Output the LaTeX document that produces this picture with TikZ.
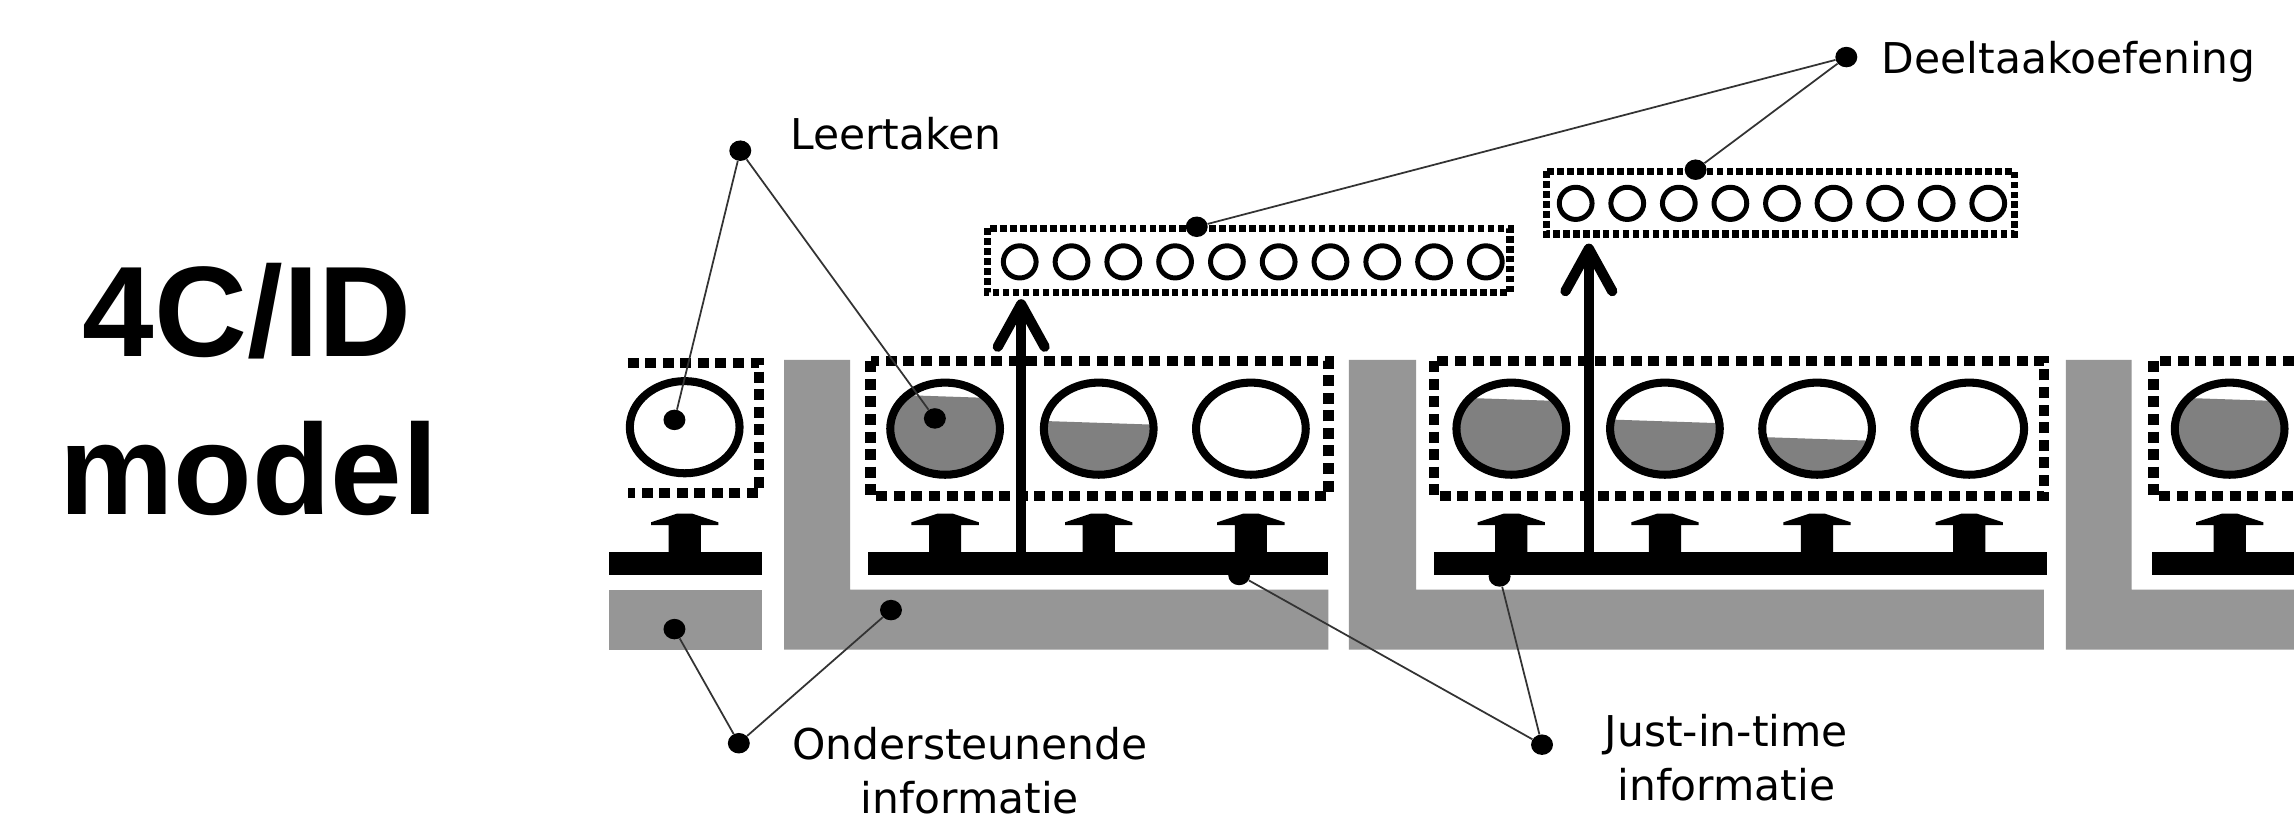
\documentclass[tikz,border=0pt]{standalone}
\usepackage{fontspec}
\usetikzlibrary{shapes.geometric}
\newfontfamily\titlefont{Liberation Sans}
\newfontfamily\lblfont{DejaVu Sans}
\definecolor{barg}{HTML}{969696}
\definecolor{cfill}{HTML}{808080}
\definecolor{leader}{HTML}{333333}
\newcommand\pcirc[4]{%
  \begin{scope}
    \clip (#2,#3) ellipse [x radius=37.5pt, y radius=31.5pt];
    \fill[cfill] (#2-45,#4-1.5) -- (#2+45,#4+1.5) -- (#2+45,#3+40) -- (#2-45,#3+40) -- cycle;
  \end{scope}
  \node[draw, ellipse, line width=5.5pt, minimum width=75pt, minimum height=63pt, inner sep=0pt] (#1) at (#2,#3) {};
}
\newcommand\uparr[1]{%
  \fill (#1-5,351) -- (#1+5,351) -- (#1+23,357) -- (#1+23,359) -- (#1+11,359) -- (#1+11,378)
        -- (#1-11,378) -- (#1-11,359) -- (#1-23,359) -- (#1-23,357) -- cycle;
}
\tikzset{
  bigdash/.style={line width=7pt, dash pattern=on 7.5pt off 4.5pt},
  smalldash/.style={line width=5pt, dash pattern=on 4.5pt off 2.3pt},
  dot/.style={fill=black, ellipse, minimum width=15pt, minimum height=14pt, inner sep=0pt},
  lead/.style={draw=leader, line width=1.2pt},
  lbl/.style={font=\lblfont\fontsize{29}{37}\selectfont, inner sep=0pt},
  ttl/.style={font=\titlefont\bfseries\fontsize{88}{100}\selectfont, inner sep=0pt},
  pov/.style={line width=3.4pt},
}
\begin{document}
\begin{tikzpicture}[x=1pt, y=-1pt]
\useasboundingbox (0,0) rectangle (1568,562);
\clip (0,0) rectangle (1568,562);
\fill[white] (0,0) rectangle (1568,562);

% title
\node[ttl, anchor=base] (t1) at (169,244) {4C/ID};
\node[ttl, anchor=base] (t2) at (170,352) {model};

% gray support bars
\fill[barg] (416,403) rectangle (521,444);
\fill[barg] (536,246) -- (581,246) -- (581,403) -- (908,403) -- (908,444) -- (536,444) -- cycle;
\fill[barg] (922,246) -- (968,246) -- (968,403) -- (1397,403) -- (1397,444) -- (922,444) -- cycle;
\fill[barg] (1412,246) -- (1457,246) -- (1457,403) -- (1600,403) -- (1600,444) -- (1412,444) -- cycle;

% black bars
\fill (416,377) rectangle (521,393);
\fill (593,377) rectangle (908,393);
\fill (980,377) rectangle (1399,393);
\fill (1471,377) rectangle (1600,393);

% block arrows
\uparr{468}
\uparr{646}\uparr{751}\uparr{855}
\uparr{1033}\uparr{1138}\uparr{1242}\uparr{1346}
\uparr{1524}

% learning task circles
\pcirc{c0}{468}{292}{400}
\pcirc{c11}{646}{293}{271}
\pcirc{c12}{751}{293}{289}
\pcirc{c13}{855}{293}{400}
\pcirc{c21}{1033}{293}{273}
\pcirc{c22}{1138}{293}{288}
\pcirc{c23}{1242}{293}{300}
\pcirc{c24}{1346}{293}{400}
\pcirc{c31}{1524}{293}{273}

% dashed task class boxes
\draw[bigdash] (429,248) -- (519,248) -- (519,337) -- (429,337);
\draw[bigdash] (595,247) rectangle (908,339);
\draw[bigdash] (980,247) rectangle (1397,339);
\draw[bigdash] (1472,247) rectangle (1620,339);

% big arrows to part-task practice
\draw[line width=7pt] (698,378) -- (698,209);
\draw[line width=7pt, line cap=round, line join=round] (682,237) -- (698,208) -- (714,237);
\draw[line width=7pt] (1086,378) -- (1086,171);
\draw[line width=7pt, line cap=round, line join=round] (1070,199) -- (1086,170) -- (1102,199);

% part-task practice boxes
\draw[smalldash] (675,156) rectangle (1032,200);
\foreach \i in {0,...,9} { \draw[pov] (697+35.4*\i,179) ellipse [x radius=11.2pt, y radius=11pt]; }
\draw[smalldash] (1057,117) rectangle (1377,160);
\foreach \i in {0,...,8} { \draw[pov] (1077+35.25*\i,139) ellipse [x radius=11.2pt, y radius=11pt]; }

% dots
\node[dot] (dLeer) at (506,103) {};
\node[dot] (dc0) at (461,287) {};
\node[dot] (dc11) at (639,286) {};
\node[dot] (dDeel) at (1262,39) {};
\node[dot] (dp1) at (818,155) {};
\node[dot] (dp2) at (1159,116) {};
\node[dot] (dOnd) at (505,508) {};
\node[dot] (dg0) at (461,430) {};
\node[dot] (dg1) at (609,417) {};
\node[dot] (dJit) at (1054,509) {};
\node[dot] (db1) at (847,393) {};
\node[dot] (db2) at (1025,394) {};

% leader lines
\draw[lead] (dLeer) -- (dc0);
\draw[lead] (dLeer) -- (dc11);
\draw[lead] (dDeel) -- (dp1);
\draw[lead] (dDeel) -- (dp2);
\draw[lead] (dOnd) -- (dg0);
\draw[lead] (dOnd) -- (dg1);
\draw[lead] (dJit) -- (db1);
\draw[lead] (dJit) -- (db2);

% labels
\node[lbl, anchor=base west] (lLeer) at (540,102) {Leertaken};
\node[lbl, anchor=base west] (lDeel) at (1286,50) {Deeltaakoefening};
\node[lbl, anchor=base, align=center] (lOnd) at (663,556) {Ondersteunende\\informatie};
\node[lbl, anchor=base, align=center] (lJit) at (1180,547) {Just-in-time\\informatie};
\end{tikzpicture}
\end{document}
